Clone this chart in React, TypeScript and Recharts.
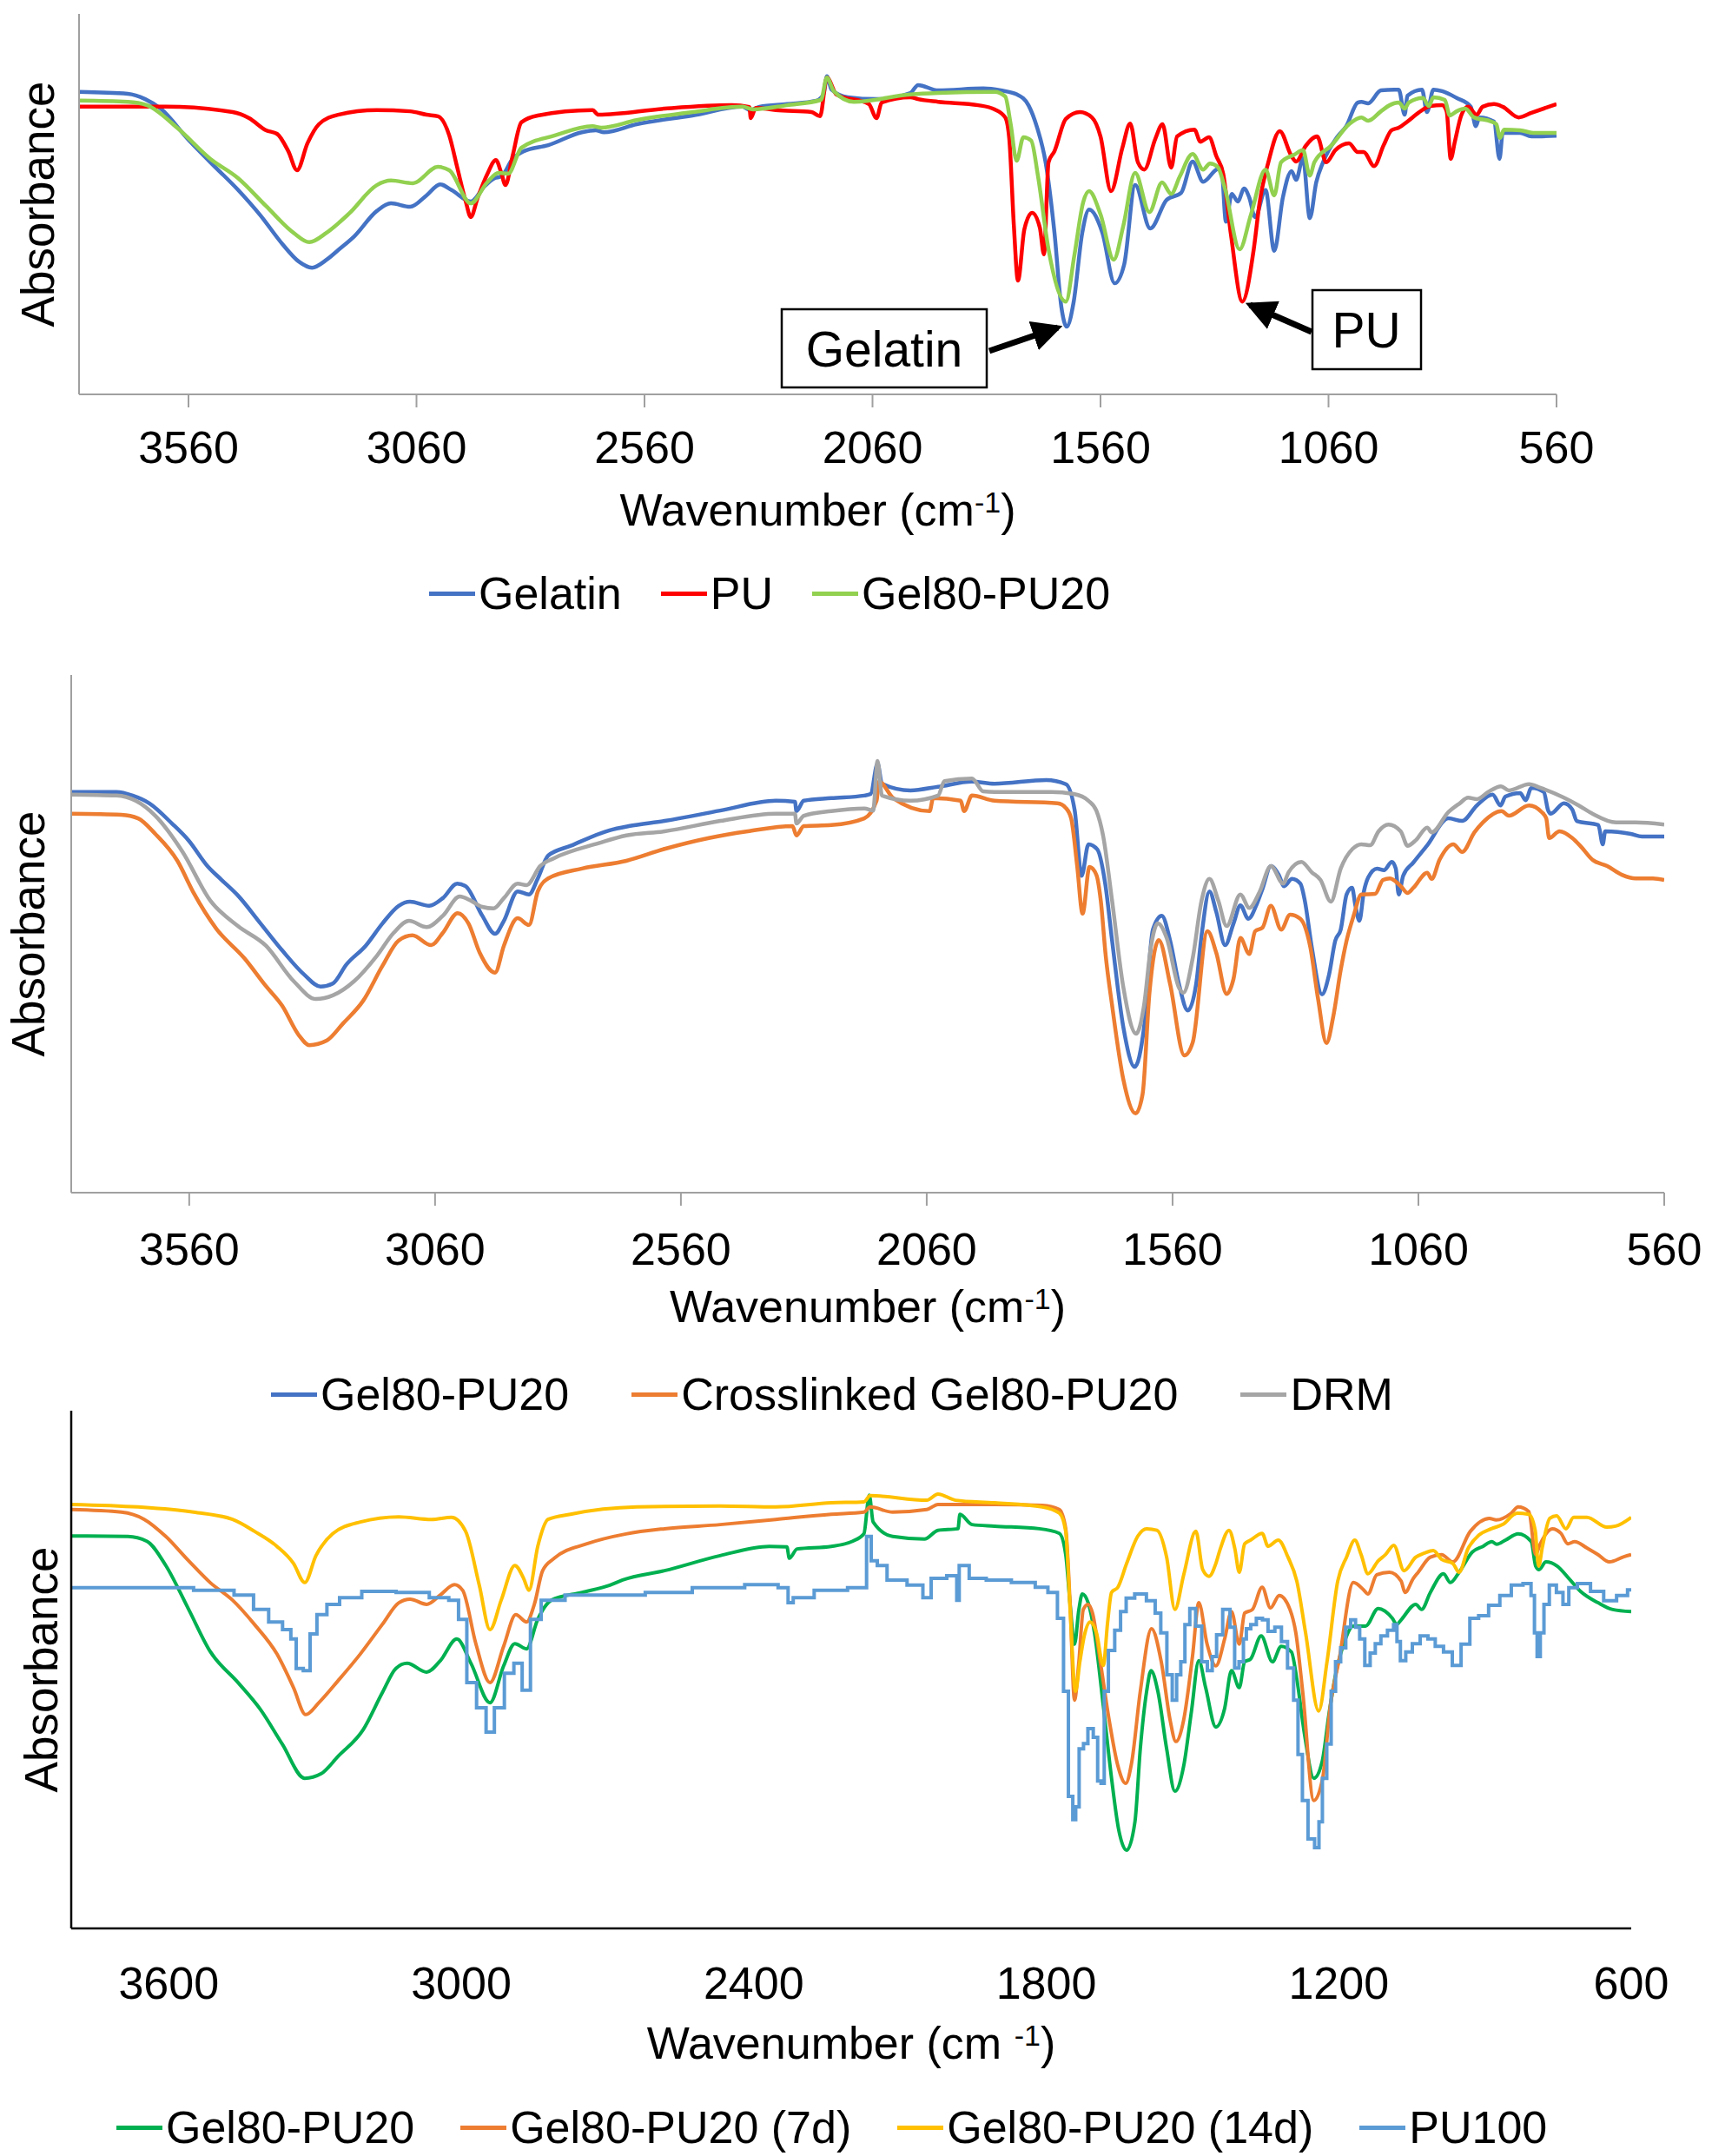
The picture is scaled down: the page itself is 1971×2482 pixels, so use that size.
import React from "react";
import { LineChart, Line, XAxis, YAxis } from "recharts";

type Pt = [number, number];

const FONT = "'Liberation Sans', Arial, Helvetica, sans-serif";

// ---- panel A: Gelatin / PU / Gel80-PU20 ----
const gelatinA: Pt[] = [[3800,79.5],[3693,79.0],[3655,77.6],[3621,75.1],[3560,66.9],[3512,61.0],[3451,53.7],[3402,47.0],[3354,39.5],[3318,34.9],[3289,33.3],[3257,35.4],[3232,37.9],[3196,41.6],[3147,48.2],[3116,50.2],[3074,49.3],[3038,52.3],[3008,55.2],[2983,53.7],[2941,50.7],[2910,54.8],[2889,56.8],[2874,57.3],[2849,61.9],[2825,63.9],[2771,65.5],[2697,68.9],[2667,69.4],[2649,68.9],[2577,71.0],[2455,73.3],[2345,75.6],[2328,74.7],[2308,75.6],[2247,76.3],[2183,77.2],[2167,79.0],[2160,83.6],[2150,80.1],[2114,78.1],[2051,77.6],[1977,79.2],[1960,81.3],[1916,79.9],[1817,80.4],[1779,79.9],[1743,78.8],[1718,76.0],[1699,70.1],[1680,60.7],[1661,42.5],[1646,23.1],[1634,17.8],[1619,24.2],[1600,42.5],[1585,48.6],[1556,42.5],[1529,29.2],[1508,34.2],[1484,55.0],[1451,43.6],[1415,51.1],[1383,53.0],[1358,61.2],[1335,55.9],[1306,59.1],[1295,59.6],[1285,45.4],[1272,52.7],[1259,50.7],[1245,54.1],[1234,51.8],[1221,46.6],[1198,53.7],[1179,37.7],[1160,51.8],[1141,58.7],[1131,56.4],[1116,62.1],[1101,46.3],[1087,55.7],[1072,61.0],[1040,67.8],[1021,70.5],[996,76.7],[988,76.9],[973,76.5],[945,79.9],[916,80.1],[906,80.1],[893,73.5],[887,78.5],[855,80.1],[844,74.2],[830,80.1],[811,79.7],[779,77.9],[748,75.6],[737,70.5],[729,72.8],[697,71.7],[685,61.9],[678,68.7],[640,68.7],[615,67.8],[560,68.0]];
const puA: Pt[] = [[3800,75.6],[3610,75.6],[3463,74.2],[3427,72.6],[3390,69.4],[3366,68.5],[3341,63.9],[3322,58.9],[3299,66.0],[3274,71.0],[3232,73.5],[3147,74.7],[3074,74.4],[3038,73.5],[3013,73.1],[2988,68.0],[2971,59.8],[2952,50.7],[2941,46.6],[2926,51.6],[2905,57.8],[2886,61.6],[2874,58.2],[2865,55.0],[2849,62.8],[2830,71.5],[2794,73.3],[2674,74.7],[2661,73.5],[2516,75.1],[2369,76.0],[2330,75.5],[2327,72.6],[2316,75.3],[2272,74.7],[2194,74.2],[2175,73.1],[2160,83.3],[2139,78.8],[2068,76.3],[2051,72.6],[2040,76.7],[1977,78.1],[1960,77.6],[1916,76.9],[1828,76.0],[1792,74.9],[1769,72.8],[1760,67.1],[1750,44.3],[1741,29.9],[1727,43.4],[1710,47.7],[1693,43.8],[1684,36.8],[1674,61.0],[1661,63.9],[1636,72.4],[1605,74.2],[1579,72.8],[1560,67.8],[1537,53.4],[1512,64.8],[1495,71.2],[1478,61.0],[1464,59.1],[1440,67.1],[1424,71.0],[1405,59.6],[1392,67.8],[1354,69.6],[1341,66.4],[1322,67.6],[1306,62.6],[1291,58.0],[1274,42.0],[1249,24.4],[1224,38.1],[1211,50.5],[1192,61.0],[1167,69.2],[1141,62.6],[1131,61.2],[1110,65.3],[1085,67.8],[1065,61.0],[1045,64.2],[1015,66.0],[996,63.7],[983,63.7],[960,60.0],[939,65.5],[922,69.4],[906,70.1],[887,71.7],[863,74.0],[836,75.8],[811,76.0],[801,74.4],[792,61.9],[783,66.4],[769,73.3],[754,75.6],[735,73.5],[722,75.6],[697,76.3],[678,75.6],[643,72.8],[615,74.0],[560,76.3]];
const gelPuA: Pt[] = [[3800,77.2],[3693,76.9],[3651,76.0],[3585,70.1],[3512,61.9],[3451,56.8],[3390,49.5],[3330,42.5],[3295,40.0],[3257,42.5],[3208,47.5],[3147,55.0],[3116,56.2],[3068,55.5],[3013,59.8],[2988,58.9],[2941,50.2],[2905,55.7],[2880,58.2],[2859,58.0],[2830,64.8],[2758,68.0],[2674,70.5],[2655,70.1],[2577,72.1],[2455,74.2],[2345,75.6],[2322,74.9],[2247,76.0],[2173,77.4],[2160,83.3],[2145,79.7],[2101,76.9],[1977,78.8],[1916,79.2],[1792,79.5],[1769,78.3],[1757,71.0],[1744,61.4],[1729,67.6],[1712,66.7],[1697,57.3],[1674,38.1],[1636,24.4],[1617,36.8],[1598,50.5],[1585,53.4],[1560,47.3],[1531,35.4],[1510,44.3],[1484,58.2],[1453,47.9],[1425,55.7],[1405,52.7],[1386,57.3],[1358,63.2],[1335,59.1],[1320,60.7],[1303,59.8],[1287,54.1],[1255,38.1],[1230,47.3],[1198,59.1],[1179,52.3],[1164,61.0],[1135,63.0],[1116,64.2],[1101,57.5],[1091,61.0],[1053,65.5],[1015,71.0],[988,72.8],[973,71.9],[945,74.4],[926,76.0],[906,76.7],[893,75.1],[884,76.7],[853,77.9],[840,75.8],[830,78.1],[805,77.4],[794,73.3],[779,74.4],[760,75.1],[741,72.8],[703,71.7],[692,71.0],[684,67.4],[675,69.6],[640,69.4],[608,68.7],[560,68.7]];

// ---- panel B: Gel80-PU20 / Crosslinked / DRM ----
const gelPuB: Pt[] = [[3800,77.4],[3708,77.4],[3675,76.7],[3641,75.2],[3595,71.3],[3561,68.0],[3523,63.1],[3494,60.4],[3461,57.4],[3415,52.0],[3371,46.8],[3325,42.0],[3293,39.8],[3268,40.4],[3240,44.1],[3201,47.7],[3167,52.0],[3134,55.4],[3111,56.2],[3072,55.4],[3044,56.9],[3015,59.7],[2998,59.2],[2964,53.5],[2938,50.0],[2920,52.5],[2892,58.2],[2869,57.6],[2851,60.7],[2830,65.1],[2784,67.0],[2705,70.0],[2666,70.8],[2593,71.8],[2480,73.8],[2367,75.7],[2328,75.5],[2325,73.7],[2310,75.7],[2254,76.2],[2187,76.7],[2174,77.0],[2160,82.9],[2151,79.0],[2093,77.7],[2037,78.4],[1968,79.4],[1922,79.0],[1817,79.7],[1777,78.9],[1759,73.8],[1745,61.2],[1731,67.3],[1713,66.3],[1697,59.7],[1683,48.7],[1660,31.9],[1637,24.3],[1618,31.9],[1600,50.8],[1582,53.5],[1565,48.7],[1547,40.3],[1529,35.2],[1512,40.3],[1501,49.7],[1485,58.2],[1471,54.2],[1453,47.8],[1436,52.0],[1422,55.5],[1406,52.9],[1388,55.9],[1377,58.7],[1360,63.1],[1344,61.4],[1333,59.2],[1317,60.6],[1300,59.7],[1291,56.4],[1277,47.5],[1256,38.3],[1242,42.0],[1229,48.7],[1218,50.8],[1206,57.6],[1195,58.9],[1188,55.4],[1180,52.5],[1171,58.1],[1162,60.9],[1144,62.6],[1130,62.3],[1114,63.9],[1106,62.6],[1100,57.6],[1091,61.2],[1070,63.8],[1042,67.1],[999,72.3],[971,71.8],[941,74.8],[909,76.9],[893,74.8],[883,76.5],[853,77.2],[842,75.8],[830,78.2],[805,77.4],[796,73.8],[791,73.2],[764,75.2],[747,74.0],[738,71.8],[694,71.0],[685,67.3],[680,69.8],[628,69.3],[605,68.8],[560,68.8]];
const crosslinkedB: Pt[] = [[3800,73.2],[3698,73.0],[3664,72.3],[3629,69.3],[3584,64.1],[3551,57.9],[3505,51.0],[3448,45.3],[3404,39.9],[3371,36.1],[3337,30.4],[3316,28.5],[3280,29.4],[3247,32.7],[3206,37.1],[3167,43.8],[3134,48.7],[3106,49.7],[3068,47.8],[3044,50.2],[3014,54.0],[2992,52.0],[2969,46.3],[2938,42.5],[2920,47.7],[2892,53.0],[2869,51.7],[2851,58.2],[2830,60.7],[2761,62.6],[2671,64.1],[2593,66.4],[2503,68.5],[2424,69.8],[2333,70.8],[2325,69.0],[2310,70.8],[2254,71.0],[2187,72.3],[2162,75.7],[2157,79.4],[2128,76.2],[2054,73.7],[2047,76.2],[1991,75.7],[1984,73.7],[1968,76.7],[1922,75.7],[1794,75.2],[1777,74.3],[1766,72.2],[1754,63.1],[1743,53.9],[1729,62.9],[1715,61.4],[1706,56.4],[1696,45.8],[1683,36.2],[1660,21.8],[1635,15.3],[1621,19.0],[1607,38.6],[1588,48.8],[1565,40.3],[1536,26.5],[1519,29.0],[1489,50.5],[1471,46.3],[1450,38.4],[1436,41.3],[1422,49.2],[1404,46.1],[1392,50.5],[1377,51.2],[1360,55.4],[1339,50.8],[1321,53.7],[1300,52.9],[1280,47.5],[1264,37.4],[1247,28.9],[1233,34.1],[1218,43.0],[1206,48.7],[1192,53.4],[1176,57.6],[1148,57.7],[1132,60.4],[1118,60.7],[1095,59.1],[1082,57.9],[1070,58.9],[1042,61.8],[1033,60.6],[1017,64.3],[989,67.3],[971,65.8],[946,69.6],[929,71.5],[891,73.7],[876,72.8],[835,74.8],[809,73.5],[800,72.3],[794,68.5],[773,69.8],[747,68.5],[729,66.8],[706,64.3],[676,63.1],[646,61.4],[618,60.7],[583,60.7],[560,60.4]];
const drmB: Pt[] = [[3800,76.9],[3708,76.7],[3669,75.7],[3629,72.8],[3574,65.9],[3517,56.4],[3461,51.5],[3404,47.7],[3348,40.9],[3302,37.4],[3268,38.1],[3224,40.9],[3178,45.8],[3144,50.2],[3113,52.5],[3077,51.3],[3044,53.5],[3010,57.2],[2987,56.4],[2964,55.2],[2941,54.9],[2920,56.9],[2892,59.7],[2874,59.4],[2846,63.1],[2818,64.6],[2727,67.5],[2671,69.0],[2593,69.8],[2480,71.8],[2367,73.2],[2328,73.2],[2325,71.3],[2310,72.8],[2254,73.7],[2187,74.2],[2169,73.8],[2160,83.4],[2151,76.7],[2093,75.7],[2037,76.7],[2024,79.5],[1968,80.0],[1945,77.5],[1922,77.4],[1807,77.4],[1761,77.0],[1731,75.7],[1715,73.8],[1701,68.8],[1683,56.4],[1660,39.6],[1634,30.7],[1618,36.2],[1604,47.5],[1590,52.0],[1572,49.2],[1547,39.6],[1538,38.6],[1519,45.3],[1501,56.4],[1485,60.6],[1467,56.4],[1450,51.5],[1422,57.6],[1404,55.0],[1383,58.1],[1360,63.1],[1335,59.7],[1324,61.9],[1298,63.9],[1277,61.9],[1259,60.4],[1238,56.2],[1218,62.6],[1194,66.4],[1176,67.3],[1158,67.1],[1141,69.8],[1121,71.1],[1096,69.8],[1082,67.0],[1065,68.1],[1042,70.5],[1033,69.6],[999,73.5],[976,75.2],[959,76.3],[941,76.0],[918,77.4],[892,78.5],[876,77.7],[835,78.9],[812,78.2],[764,76.3],[734,74.8],[706,73.2],[658,71.5],[618,71.5],[560,71.1]];

// ---- panel C: ageing series + PU100 ----
const gelPuC: Pt[] = [[3800,75.8],[3684,75.7],[3645,74.8],[3606,70.1],[3559,61.6],[3515,53.5],[3458,47.5],[3412,42.3],[3367,35.6],[3321,29.0],[3287,29.9],[3253,33.2],[3201,38.4],[3162,45.5],[3134,50.2],[3111,51.2],[3071,49.5],[3043,51.7],[3009,55.9],[2980,51.2],[2941,43.6],[2913,50.7],[2890,55.0],[2866,54.0],[2843,59.7],[2815,63.4],[2752,64.9],[2695,66.3],[2669,67.3],[2583,69.1],[2469,72.0],[2368,73.8],[2332,73.7],[2327,71.5],[2311,73.3],[2241,73.8],[2197,74.8],[2174,76.2],[2163,83.7],[2155,78.5],[2115,75.7],[2050,75.2],[2022,76.9],[1981,77.2],[1977,80.0],[1952,78.0],[1906,77.7],[1814,77.2],[1773,76.3],[1760,72.2],[1751,62.6],[1742,54.9],[1733,61.6],[1726,64.6],[1714,62.9],[1701,57.1],[1683,43.1],[1666,29.0],[1651,18.9],[1635,15.1],[1618,20.6],[1607,34.7],[1594,45.8],[1585,49.8],[1571,45.8],[1553,34.7],[1536,26.5],[1518,31.4],[1502,42.0],[1487,51.7],[1473,46.5],[1452,38.9],[1434,42.5],[1420,49.8],[1404,46.5],[1393,51.5],[1381,52.0],[1359,56.5],[1336,51.5],[1318,54.5],[1297,53.4],[1286,48.2],[1270,37.4],[1251,29.0],[1234,32.2],[1220,41.4],[1206,49.2],[1190,54.9],[1170,58.4],[1145,58.4],[1119,61.8],[1090,59.9],[1081,58.7],[1072,59.6],[1042,62.6],[1030,61.6],[1012,64.9],[985,68.5],[971,66.8],[953,68.8],[926,72.7],[904,73.8],[886,74.7],[876,74.2],[858,75.0],[832,76.2],[805,74.7],[796,70.0],[789,69.3],[775,70.8],[752,70.0],[728,67.6],[704,65.1],[668,62.9],[638,61.6],[600,61.2]];
const gelPu7dC: Pt[] = [[3800,80.9],[3697,80.4],[3650,79.0],[3606,75.7],[3559,71.0],[3515,66.8],[3469,63.4],[3424,58.7],[3378,53.0],[3344,46.5],[3319,41.3],[3292,43.6],[3253,47.8],[3207,53.0],[3162,58.7],[3128,62.9],[3105,63.6],[3071,62.6],[3043,64.4],[3014,66.4],[2997,65.3],[2970,55.0],[2941,47.5],[2913,54.5],[2888,60.6],[2866,59.2],[2850,62.6],[2833,69.1],[2809,71.5],[2742,74.3],[2662,76.2],[2583,77.2],[2469,78.0],[2355,79.0],[2241,80.0],[2174,80.4],[2161,81.4],[2115,80.4],[2045,80.9],[2022,81.9],[1976,81.9],[1906,81.9],[1808,81.7],[1773,80.9],[1760,77.2],[1751,62.6],[1742,44.1],[1733,51.5],[1724,61.6],[1714,62.6],[1705,60.9],[1689,51.5],[1671,40.3],[1653,31.4],[1637,28.0],[1625,31.9],[1607,45.8],[1584,57.9],[1564,51.5],[1546,40.3],[1534,36.1],[1518,40.3],[1500,52.5],[1487,62.9],[1470,54.9],[1452,50.7],[1434,55.9],[1420,61.2],[1404,54.9],[1393,60.9],[1377,61.6],[1357,65.9],[1340,61.9],[1322,64.3],[1300,61.6],[1288,57.1],[1274,45.8],[1251,24.7],[1233,29.0],[1217,43.1],[1199,52.0],[1170,66.8],[1149,65.4],[1140,64.6],[1122,68.3],[1096,68.8],[1072,67.1],[1064,64.9],[1047,67.6],[1037,68.8],[1012,71.7],[989,72.2],[966,70.8],[930,76.7],[891,79.2],[877,78.9],[846,80.2],[832,81.4],[810,80.5],[796,72.2],[787,74.2],[762,77.2],[744,76.3],[730,74.3],[716,74.7],[691,73.5],[668,72.2],[645,70.8],[615,71.8],[600,72.2]];
const gelPu14dC: Pt[] = [[3800,81.9],[3663,81.4],[3549,80.4],[3469,79.0],[3424,76.7],[3378,73.8],[3344,70.5],[3321,66.8],[3298,72.0],[3264,76.2],[3207,78.5],[3128,79.5],[3061,79.0],[3020,79.4],[2991,76.7],[2963,66.3],[2941,57.7],[2918,63.4],[2890,70.1],[2872,67.6],[2861,65.3],[2843,73.8],[2822,79.0],[2776,80.0],[2640,81.4],[2469,81.6],[2355,81.4],[2241,82.2],[2174,82.4],[2161,83.6],[2045,82.7],[2022,83.9],[1986,82.7],[1906,82.2],[1808,81.4],[1773,80.2],[1760,76.7],[1751,61.6],[1740,45.8],[1731,51.5],[1722,56.5],[1710,59.2],[1697,57.1],[1683,50.8],[1674,59.2],[1666,64.9],[1653,65.9],[1635,70.5],[1612,75.8],[1594,77.2],[1573,76.9],[1553,71.7],[1536,61.6],[1518,68.3],[1493,76.7],[1479,69.3],[1466,68.0],[1452,70.5],[1443,73.3],[1425,76.9],[1413,73.3],[1404,68.8],[1393,74.3],[1381,75.0],[1357,76.3],[1345,73.8],[1324,75.0],[1304,71.7],[1286,67.1],[1268,57.1],[1241,42.0],[1224,51.5],[1202,67.1],[1184,71.7],[1167,75.0],[1154,72.2],[1140,68.5],[1119,71.0],[1104,72.2],[1087,74.0],[1066,69.1],[1042,71.7],[1024,72.5],[1006,73.0],[989,71.3],[966,70.5],[953,68.8],[935,73.3],[912,76.0],[887,77.2],[864,78.0],[834,80.2],[810,80.0],[797,76.9],[790,70.0],[782,73.8],[767,79.2],[753,79.7],[734,77.2],[718,79.4],[691,79.4],[650,77.5],[632,77.7],[600,79.4]];
const pu100C: Pt[] = [[3800,65.8],[3606,65.8],[3492,65.3],[3440,64.4],[3412,61.6],[3378,59.2],[3355,57.7],[3344,55.9],[3333,50.2],[3315,49.8],[3305,56.9],[3287,60.6],[3264,62.6],[3235,63.9],[3173,65.1],[3094,64.9],[3037,63.9],[3014,63.4],[2997,59.7],[2980,47.5],[2957,42.6],[2941,37.9],[2923,42.6],[2900,49.3],[2884,51.2],[2866,46.0],[2850,59.7],[2822,63.4],[2752,64.4],[2662,64.4],[2583,64.9],[2469,65.8],[2368,66.4],[2332,65.8],[2327,62.9],[2311,63.9],[2241,65.3],[2174,65.8],[2163,75.7],[2155,71.0],[2138,70.1],[2115,67.3],[2056,66.3],[2050,63.9],[2022,67.6],[1986,68.1],[1981,63.4],[1976,70.1],[1940,67.6],[1906,67.3],[1837,66.8],[1808,65.9],[1785,64.9],[1769,59.9],[1760,45.8],[1749,25.5],[1742,21.0],[1737,23.5],[1728,34.7],[1719,35.7],[1710,38.6],[1697,36.9],[1692,28.5],[1683,28.0],[1679,45.8],[1666,53.7],[1653,57.6],[1642,61.2],[1630,63.8],[1607,64.6],[1582,63.3],[1571,60.9],[1559,57.1],[1546,49.0],[1537,44.1],[1528,49.0],[1520,51.5],[1511,58.7],[1500,61.8],[1487,58.4],[1475,51.5],[1464,49.8],[1455,52.5],[1446,56.7],[1430,61.6],[1416,58.2],[1411,50.3],[1398,51.5],[1393,55.9],[1386,57.9],[1375,58.7],[1363,59.9],[1350,59.6],[1340,57.4],[1322,58.2],[1313,55.4],[1297,50.3],[1288,44.1],[1279,33.6],[1270,24.7],[1256,17.3],[1243,15.6],[1238,20.6],[1229,29.0],[1220,35.6],[1211,45.8],[1202,51.5],[1190,54.2],[1181,58.2],[1170,59.6],[1161,58.2],[1153,55.9],[1140,50.8],[1131,53.2],[1119,55.0],[1108,56.5],[1092,57.6],[1083,58.7],[1078,55.4],[1069,51.7],[1056,53.4],[1042,55.0],[1024,56.5],[1010,55.9],[994,54.5],[976,53.4],[958,50.8],[940,54.9],[922,59.9],[904,60.4],[881,62.4],[858,64.3],[834,66.3],[810,66.6],[801,64.3],[796,57.1],[790,52.5],[783,57.1],[775,62.6],[761,66.3],[746,64.9],[734,62.6],[722,65.8],[699,66.6],[668,65.1],[645,63.3],[615,64.3],[600,65.4]];

const ticksAB = [3560, 3060, 2560, 2060, 1560, 1060, 560];
const ticksC = [3600, 3000, 2400, 1800, 1200, 600];

interface Series {
  name: string;
  color: string;
  points: Pt[];
  step?: boolean;
}

const seriesA: Series[] = [
  { name: "Gelatin", color: "#4472C4", points: gelatinA },
  { name: "PU", color: "#FF0000", points: puA },
  { name: "Gel80-PU20", color: "#92D050", points: gelPuA },
];
const seriesB: Series[] = [
  { name: "Gel80-PU20", color: "#4472C4", points: gelPuB },
  { name: "Crosslinked Gel80-PU20", color: "#ED7D31", points: crosslinkedB },
  { name: "DRM", color: "#A5A5A5", points: drmB },
];
const seriesC: Series[] = [
  { name: "Gel80-PU20", color: "#00B050", points: gelPuC },
  { name: "Gel80-PU20 (7d)", color: "#ED7D31", points: gelPu7dC },
  { name: "Gel80-PU20 (14d)", color: "#FFC000", points: gelPu14dC },
  { name: "PU100", color: "#5B9BD5", points: pu100C, step: true },
];

const toRows = (pts: Pt[]) => pts.map(([w, v]) => ({ w, v }));

const Y_AXIS_W = 60;

interface PanelProps {
  top: number;
  height: number;
  margin: { top: number; right: number; bottom: number; left: number };
  domain: [number, number];
  ticks: number[];
  series: Series[];
  axisColor: string;
  axisWidth: number;
  lineWidth: number;
  tickSize: number;
  tickMargin: number;
  titleDy: number;
  yLabelDx: number;
  spacedUnit?: boolean;
}

function Panel(p: PanelProps) {
  // p.margin.left is where the y axis line sits; the YAxis box takes Y_AXIS_W of it
  const margin = { ...p.margin, left: p.margin.left - Y_AXIS_W };

  const renderAbsorbance = (props: any) => {
    const vb = props.viewBox || {};
    const x = (vb.x ?? margin.left) + (vb.width ?? Y_AXIS_W) + p.yLabelDx;
    const y = (vb.y ?? p.margin.top) + (vb.height ?? 0) / 2;
    return (
      <text
        transform={`translate(${x},${y}) rotate(-90)`}
        textAnchor="middle"
        fontSize={53}
        fontFamily={FONT}
        fill="#000"
      >
        Absorbance
      </text>
    );
  };

  const renderTitle = (props: any) => {
    const vb = props.viewBox || {};
    const cx = (vb.x ?? 0) + (vb.width ?? 0) / 2;
    const y = (vb.y ?? 0) + p.titleDy;
    return (
      <text x={cx} y={y} textAnchor="middle" fontSize={52} fontFamily={FONT} fill="#000">
        {p.spacedUnit ? "Wavenumber (cm " : "Wavenumber (cm"}
        <tspan fontSize={34} dy={-15}>-1</tspan>
        <tspan dy={15}>)</tspan>
      </text>
    );
  };

  return (
    <div style={{ position: "absolute", left: 0, top: p.top }}>
      <LineChart width={1971} height={p.height} margin={margin}>
        <XAxis
          dataKey="w"
          type="number"
          domain={p.domain}
          reversed
          ticks={p.ticks}
          interval={0}
          allowDataOverflow
          height={170}
          axisLine={{ stroke: p.axisColor, strokeWidth: p.axisWidth }}
          tickLine={p.tickSize > 0 ? { stroke: p.axisColor, strokeWidth: p.axisWidth } : false}
          tickSize={p.tickSize}
          tickMargin={p.tickMargin}
          tick={{ fontSize: 52, fill: "#000", fontFamily: FONT }}
          label={{ content: renderTitle }}
        />
        <YAxis
          type="number"
          domain={[0, 100]}
          width={Y_AXIS_W}
          tick={false}
          tickLine={false}
          axisLine={{ stroke: p.axisColor, strokeWidth: p.axisWidth }}
          label={{ content: renderAbsorbance }}
        />
        {p.series.map((s) => (
          <Line
            key={s.name}
            data={toRows(s.points)}
            dataKey="v"
            name={s.name}
            type={s.step ? "step" : "monotone"}
            stroke={s.color}
            strokeWidth={p.lineWidth}
            dot={false}
            activeDot={false}
            isAnimationActive={false}
          />
        ))}
      </LineChart>
    </div>
  );
}

function LegendRow({ series, left, centerY, gap }: { series: Series[]; left: number; centerY: number; gap: number }) {
  return (
    <div
      style={{
        position: "absolute",
        left,
        top: centerY - 30,
        height: 60,
        display: "flex",
        alignItems: "center",
        gap,
        fontFamily: FONT,
        fontSize: 52,
        lineHeight: "60px",
        whiteSpace: "nowrap",
        color: "#000",
      }}
    >
      {series.map((s) => (
        <div key={s.name} style={{ display: "flex", alignItems: "center" }}>
          <div style={{ width: 53, height: 5, background: s.color, marginRight: 4 }} />
          <span>{s.name}</span>
        </div>
      ))}
    </div>
  );
}

function Callouts() {
  return (
    <svg width={1971} height={500} style={{ position: "absolute", left: 0, top: 0, pointerEvents: "none" }}>
      <defs>
        <marker id="head" markerWidth="5" markerHeight="5" refX="4.2" refY="2.5" orient="auto" markerUnits="strokeWidth">
          <path d="M0,0 L5,2.5 L0,5 z" fill="#000" />
        </marker>
      </defs>
      <rect x={900} y={356} width={236} height={90} fill="#fff" stroke="#000" strokeWidth={2.5} />
      <text x={1018} y={422} textAnchor="middle" fontSize={57} fontFamily={FONT} fill="#000">
        Gelatin
      </text>
      <line x1={1139} y1={404} x2={1218} y2={377} stroke="#000" strokeWidth={7} markerEnd="url(#head)" />
      <rect x={1511} y={334} width={125} height={91} fill="#fff" stroke="#000" strokeWidth={2.5} />
      <text x={1573} y={400} textAnchor="middle" fontSize={57} fontFamily={FONT} fill="#000">
        PU
      </text>
      <line x1={1510} y1={382} x2={1439} y2={351} stroke="#000" strokeWidth={7} markerEnd="url(#head)" />
    </svg>
  );
}

export default function App() {
  return (
    <div style={{ position: "absolute", left: 0, top: 0, width: 1971, height: 2482, background: "#fff", overflow: "hidden" }}>
      <Panel
        top={0}
        height={640}
        margin={{ top: 16, right: 179, bottom: 16, left: 91 }}
        domain={[560, 3800]}
        ticks={ticksAB}
        series={seriesA}
        axisColor="#A0A0A0"
        axisWidth={2}
        lineWidth={4.5}
        tickSize={15}
        tickMargin={27}
        titleDy={151}
        yLabelDx={-29}
      />
      <Panel
        top={760}
        height={800}
        margin={{ top: 17, right: 55, bottom: 17, left: 82 }}
        domain={[560, 3800]}
        ticks={ticksAB}
        series={seriesB}
        axisColor="#A0A0A0"
        axisWidth={2}
        lineWidth={4.5}
        tickSize={15}
        tickMargin={31}
        titleDy={149}
        yLabelDx={-31}
      />
      <Panel
        top={1600}
        height={800}
        margin={{ top: 24, right: 93, bottom: 10, left: 82 }}
        domain={[600, 3800]}
        ticks={ticksC}
        series={seriesC}
        axisColor="#000"
        axisWidth={2.5}
        lineWidth={4}
        tickSize={0}
        tickMargin={44}
        titleDy={150}
        yLabelDx={-16}
        spacedUnit
      />
      <Callouts />
      <LegendRow series={seriesA} left={494} centerY={683} gap={45} />
      <LegendRow series={seriesB} left={312} centerY={1605} gap={72} />
      <LegendRow series={seriesC} left={134} centerY={2449} gap={53} />
    </div>
  );
}
